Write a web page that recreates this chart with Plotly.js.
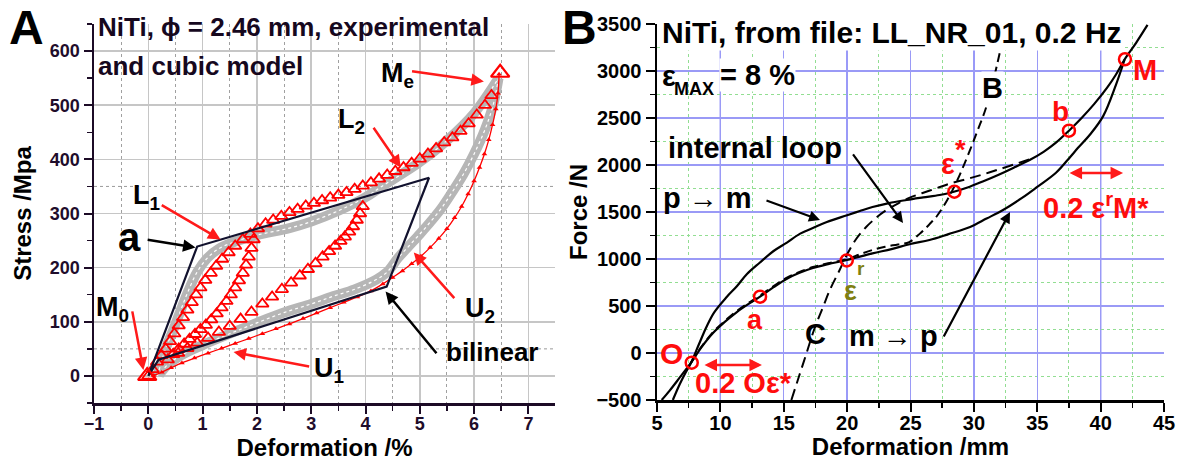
<!DOCTYPE html>
<html>
<head>
<meta charset="utf-8">
<script src="https://cdn.plot.ly/plotly-3.0.1.min.js"></script>
<style>
  html, body { margin: 0; padding: 0; background: #ffffff; }
  #chart { width: 1179px; height: 464px; }
</style>
</head>
<body>
<div id="chart"></div>
<script>
// ---------- Panel A: NiTi wire, stress vs deformation ----------
// experimental loading branch (red triangles)
const expLoadStrain = [0.00,0.08,0.16,0.24,0.32,0.40,0.48,0.56,0.64,0.72,0.80,0.88,0.96,1.05,1.15,1.25,1.36,1.48,1.60,1.74,1.88,2.02,2.16,2.30,2.45,2.60,2.75,2.90,3.05,3.20,3.35,3.50,3.65,3.80,3.95,4.10,4.25,4.40,4.55,4.70,4.85,5.00,5.15,5.30,5.45,5.60,5.75,5.90,6.05,6.20,6.32];
const expLoadStress = [0,12,26,38,50,64,78,93,108,122,136,150,163,177,190,203,216,228,240,252,262,272,281,288,295,302,308,314,319,324,329,334,339,345,351,357,364,371,378,385,393,401,410,420,431,440,452,466,482,500,518];
// first internal sub-loop, return branch
const expLoop1Strain = [1.94,1.90,1.85,1.80,1.74,1.67,1.60,1.52,1.44,1.35,1.26,1.16,1.06,0.96,0.86,0.76,0.66,0.56,0.46,0.36];
const expLoop1Stress = [252,236,220,205,190,176,163,150,138,126,115,104,94,86,77,68,59,50,40,30];
// second internal sub-loop branch
const expLoop2Strain = [3.95,3.90,3.84,3.77,3.70,3.62,3.54,3.44,3.33,3.21,3.08,2.94,2.79,2.63,2.46,2.28,2.10,1.90,1.70,1.50,1.30,1.10,0.90,0.72,0.55];
const expLoop2Stress = [313,300,288,276,266,257,249,240,230,220,208,197,185,172,160,146,133,118,105,92,81,70,61,51,42];
// experimental unloading branch
const expUnloadStrain = [6.46,6.44,6.40,6.34,6.27,6.19,6.10,6.00,5.89,5.77,5.64,5.50,5.35,5.19,5.02,4.85,4.68,4.50,4.32,4.10,3.85,3.60,3.35,3.10,2.85,2.60,2.35,2.10,1.85,1.60,1.35,1.10,0.85,0.62,0.42,0.25,0.10];
const expUnloadStress = [557,522,493,464,436,410,385,360,336,313,292,272,254,237,221,207,194,182,170,157,146,136,126,116,106,96,87,78,69,60,51,42,33,24,15,7,1];
// start (M0) and end (Me) points
const expEndStrain = [-0.02, 6.48];
const expEndStress = [0, 560];
// cubic model (grey)
const modelLoadStrain = [0.17,0.30,0.46,0.60,0.72,0.90,1.09,1.30,1.60,2.00,2.60,3.00,3.50,4.00,4.30,4.70,5.00,5.50,6.00,6.45];
const modelLoadStress = [0,45,85,122,153,192,218,235,248,260,273,285,305,330,350,375,395,435,485,550];
const modelUnloadStrain = [6.45,6.35,6.20,6.00,5.80,5.60,5.40,5.20,5.00,4.80,4.60,4.40,4.20,3.80,3.40,3.00,2.50,2.00,1.50,1.00,0.60,0.35,0.20];
const modelUnloadStress = [550,500,455,410,372,340,310,285,262,240,218,192,178,160,147,133,117,98,78,57,38,20,2];
// bilinear model
const bilinStrain = [0, 0.90, 5.17, 4.39, 0.19, 0];
const bilinStress = [0, 239, 366, 165, 30, 0];

// ---------- Panel B: force vs deformation, LL_NR_01 ----------
// p -> m branch
const pmDefo = [6.25,6.8,7.25,7.7,8.3,8.9,9.5,10.5,11.3,12.1,13.1,14.2,15.25,16.3,17.3,18.4,20.0,21.0,22.0,23.3,24.7,26.0,27.3,28.35,29.5,30.7,32.0,33.2,34.4,35.5,36.5,37.5,38.5,39.5,40.5,41.2,41.9,42.8,43.7];
const pmForce = [-500,-330,-210,-100,90,277,430,596,710,840,960,1085,1175,1270,1330,1394,1465,1510,1553,1595,1628,1655,1681,1713,1760,1825,1900,1975,2053,2140,2240,2365,2500,2650,2820,2960,3125,3300,3490];
// m -> p branch
const mpDefo = [41.9,41.2,40.2,39.2,38.2,37.6,36.5,35.0,33.8,32.3,31.0,29.7,28.0,26.5,25.0,23.5,22.0,20.0,18.5,17.3,16.2,15.25,14.2,13.13,12.2,11.3,10.3,9.42,8.5,7.7,6.8,6.0,5.37];
const mpForce = [3125,2850,2520,2330,2180,2086,1920,1767,1650,1521,1430,1341,1265,1202,1160,1105,1060,990,945,904,850,790,700,599,520,436,325,213,60,-100,-260,-400,-500];
// internal loop, dashed branch ending in line B
const loopDefo = [7.7,8.5,9.42,10.3,11.3,12.2,13.13,14.2,15.25,16.2,17.3,18.5,20.0,21.0,22.0,23.0,24.0,24.9,25.8,26.5,27.1,27.9,28.7,29.7,30.3,30.9,31.5,32.1];
const loopForce = [-100,65,222,335,448,532,612,712,802,860,914,955,1000,1050,1096,1130,1155,1180,1277,1370,1460,1628,1840,2160,2370,2585,2880,3230];
// internal loop, dashed branch starting with line C
const cDefo = [15.6,16.2,16.8,17.4,18.1,18.7,19.4,20.0,20.7,21.5,22.3,23.1,24.0,24.9,25.9,27.0,28.3,29.7,31.2,32.8,34.6];
const cForce = [-500,-250,0,250,490,690,880,1050,1210,1340,1440,1520,1590,1650,1700,1750,1810,1860,1920,1990,2070];
// marked points O, a, eps_r, eps*, b, M
const pointDefo = [7.74, 13.13, 19.97, 28.46, 37.5, 41.92];
const pointForce = [-103, 599, 985, 1716, 2365, 3125];

// ---------- styling ----------
const FONT = 'Liberation Sans, Arial, Helvetica, sans-serif';
const RED = '#ff0000';
const DARK_A = '#1c0b26';
const W = 1179, H = 464;

const traces = [
  // cubic model band
  {x: modelLoadStrain, y: modelLoadStress, xaxis: 'x', yaxis: 'y', mode: 'lines',
   line: {color: '#b6b6b6', width: 10, shape: 'spline'}},
  {x: modelUnloadStrain, y: modelUnloadStress, xaxis: 'x', yaxis: 'y', mode: 'lines',
   line: {color: '#b6b6b6', width: 10, shape: 'spline'}},
  {x: modelLoadStrain, y: modelLoadStress, xaxis: 'x', yaxis: 'y', mode: 'lines',
   line: {color: '#ffffff', width: 1.2, shape: 'spline', dash: 'dot'}},
  {x: modelUnloadStrain, y: modelUnloadStress, xaxis: 'x', yaxis: 'y', mode: 'lines',
   line: {color: '#ffffff', width: 1.2, shape: 'spline', dash: 'dot'}},
  // experimental data
  {x: expUnloadStrain, y: expUnloadStress, xaxis: 'x', yaxis: 'y', mode: 'lines+markers',
   line: {color: RED, width: 1.3, shape: 'spline'},
   marker: {symbol: 'triangle-up', size: 5, color: RED}},
  {x: expLoadStrain, y: expLoadStress, xaxis: 'x', yaxis: 'y', mode: 'markers',
   marker: {symbol: 'triangle-up-open', size: 11, color: RED, line: {width: 1.8, color: RED}}},
  {x: expLoop1Strain, y: expLoop1Stress, xaxis: 'x', yaxis: 'y', mode: 'markers',
   marker: {symbol: 'triangle-up-open', size: 11, color: RED, line: {width: 1.8, color: RED}}},
  {x: expLoop2Strain, y: expLoop2Stress, xaxis: 'x', yaxis: 'y', mode: 'markers',
   marker: {symbol: 'triangle-up-open', size: 11, color: RED, line: {width: 1.8, color: RED}}},
  // bilinear model
  {x: bilinStrain, y: bilinStress, xaxis: 'x', yaxis: 'y', mode: 'lines',
   line: {color: '#12122e', width: 2.2}},
  {x: expEndStrain, y: expEndStress, xaxis: 'x', yaxis: 'y', mode: 'markers',
   marker: {symbol: 'triangle-up-open', size: 16, color: RED, line: {width: 2.2, color: RED}}},

  // Panel B curves
  {x: cDefo, y: cForce, xaxis: 'x2', yaxis: 'y2', mode: 'lines',
   line: {color: '#000000', width: 2, dash: '11px,6px', shape: 'spline'}},
  {x: loopDefo, y: loopForce, xaxis: 'x2', yaxis: 'y2', mode: 'lines',
   line: {color: '#000000', width: 2, dash: '9px,5px', shape: 'spline'}},
  {x: pmDefo, y: pmForce, xaxis: 'x2', yaxis: 'y2', mode: 'lines',
   line: {color: '#000000', width: 2.2, shape: 'spline'}},
  {x: mpDefo, y: mpForce, xaxis: 'x2', yaxis: 'y2', mode: 'lines',
   line: {color: '#000000', width: 2.2, shape: 'spline'}},
  {x: pointDefo, y: pointForce, xaxis: 'x2', yaxis: 'y2', mode: 'markers',
   marker: {symbol: 'circle-open', size: 12, color: RED, line: {width: 2.5, color: RED}}}
];
traces.forEach(t => { t.showlegend = false; t.hoverinfo = 'skip'; });

function txt(text, x, y, ref, size, color, extra) {
  return Object.assign({
    text: text, x: x, y: y, xref: ref[0], yref: ref[1], showarrow: false,
    xanchor: 'center', yanchor: 'middle',
    font: {family: FONT, size: size, color: color, weight: 'bold'}
  }, extra || {});
}
function arr(x0, y0, x1, y1, ref, color, width, side) {
  return {
    text: '', x: x1, y: y1, ax: x0, ay: y0, xref: ref[0], yref: ref[1],
    axref: ref[0], ayref: ref[1], showarrow: true, arrowhead: 2, arrowsize: 1,
    arrowwidth: width, arrowcolor: color, standoff: 0, startstandoff: 0,
    arrowside: side || 'end', startarrowhead: 2, startarrowsize: 1
  };
}
const A = ['x', 'y'], B = ['x2', 'y2'], P = ['paper', 'paper'];
const px = v => v / W, py = v => 1 - v / H;

const annotations = [
  // panel letters
  txt('A', px(26), py(28), P, 48, '#000000'),
  txt('B', px(579), py(28), P, 48, '#000000'),
  // panel A heading
  txt('NiTi, \u03d5 = 2.46 mm, experimental', px(96), py(27), P, 26, '#16081e', {xanchor: 'left'}),
  txt('and cubic model', px(96), py(66), P, 26, '#16081e', {xanchor: 'left'}),
  // panel A labels and pointers
  txt('M<sub>e</sub>', 4.59, 556, A, 27, '#000000'),
  arr(4.83, 563, 6.18, 544, A, '#ff1a1a', 2.5),
  txt('L<sub>2</sub>', 3.75, 470, A, 27, '#000000'),
  arr(4.13, 461, 4.65, 385, A, '#ff1a1a', 2.5),
  txt('L<sub>1</sub>', -0.04, 331, A, 27, '#000000'),
  arr(0.22, 317, 1.33, 252, A, '#ff1a1a', 2.5),
  txt('a', -0.35, 257, A, 40, '#000000'),
  arr(-0.04, 252, 0.87, 237, A, '#000000', 2.5),
  txt('M<sub>0</sub>', -0.66, 124, A, 27, '#000000'),
  arr(-0.30, 122, -0.09, 11, A, '#ff1a1a', 2.5),
  txt('U<sub>1</sub>', 3.32, 11, A, 27, '#000000'),
  arr(2.99, 17, 1.57, 44, A, '#ff1a1a', 2.5),
  txt('U<sub>2</sub>', 6.11, 122, A, 27, '#000000'),
  arr(5.66, 141, 4.89, 228, A, '#ff1a1a', 2.5),
  txt('bilinear', 6.33, 44, A, 26, '#000000'),
  arr(5.33, 39, 4.37, 156, A, '#000000', 2.5),

  // panel B heading
  txt('NiTi, from file: LL_NR_01, 0.2 Hz', px(660), py(33), P, 30, '#000000',
      {xanchor: 'left', bgcolor: '#ffffff', borderpad: 1}),
  txt('\u03b5', px(660), py(76), P, 29, '#000000', {xanchor: 'left'}),
  txt('MAX', px(672), py(89), P, 18, '#000000', {xanchor: 'left'}),
  txt('= 8 %', px(719), py(75), P, 29, '#000000', {xanchor: 'left', bgcolor: '#ffffff', borderpad: 0}),
  // panel B labels
  txt('internal loop', 12.73, 2181, B, 29, '#000000'),
  arr(20.38, 2128, 24.41, 1383, B, '#000000', 2.2),
  txt('p \u2192 m', 9.02, 1649, B, 29, '#000000'),
  arr(13.52, 1628, 17.86, 1415, B, '#000000', 2.2),
  txt('m \u2192 p', 23.62, 181, B, 29, '#000000'),
  arr(27.56, 160, 32.85, 1500, B, '#000000', 2.2),
  txt('B', 31.43, 2820, B, 29, '#000000', {bgcolor: '#ffffff', borderpad: 0}),
  txt('C', 17.47, 202, B, 29, '#000000'),
  txt('O', 6.18, 0, B, 30, '#ff0d0d'),
  txt('a', 12.73, 351, B, 27, '#ff0d0d'),
  txt('\u03b5', 20.23, 660, B, 27, '#7f7f10'),
  txt('r', 21.1, 894, B, 19, '#7f7f10'),
  txt('\u03b5', 27.96, 2011, B, 29, '#ff0d0d'),
  txt('*', 28.98, 2160, B, 27, '#ff0d0d'),
  txt('b', 36.8, 2564, B, 28, '#ff0d0d'),
  txt('M', 43.5, 3011, B, 29, '#ff0d0d'),
  txt('0.2 O\u03b5*', 11.79, -319, B, 29, '#ff0d0d'),
  arr(8.63, -128, 13.28, -128, B, '#ff1a1a', 2.5, 'end+start'),
  txt('0.2 \u03b5<sup>r</sup>M*', 39.64, 1564, B, 29, '#ff0d0d'),
  arr(37.43, 1915, 41.77, 1915, B, '#ff1a1a', 2.5, 'end+start')
];

// extra grid decoration: dotted guides in A, darker blue every second line in B
const shapes = [];
[50, 350].forEach(v => shapes.push({type: 'line', xref: 'x', yref: 'y', x0: -1, x1: 7.5, y0: v, y1: v,
  layer: 'below', line: {color: '#9a9a9a', width: 1, dash: 'dot'}}));
[10, 20, 30, 40].forEach(v => shapes.push({type: 'line', xref: 'x2', yref: 'y2', x0: v, x1: v, y0: -500, y1: 3500,
  layer: 'below', line: {color: '#2b2bf2', width: 1.2}}));
[0, 1000, 2000, 3000].forEach(v => shapes.push({type: 'line', xref: 'x2', yref: 'y2', x0: 5, x1: 45, y0: v, y1: v,
  layer: 'below', line: {color: '#2b2bf2', width: 1.2}}));

const tickFontA = {family: FONT, size: 18, color: '#1f0d2b', weight: 'bold'};
const tickFontB = {family: FONT, size: 20, color: '#000000', weight: 'bold'};
const titleFont = {family: FONT, size: 24, color: '#000000', weight: 'bold'};

const layout = {
  width: W, height: H,
  margin: {l: 0, r: 0, t: 0, b: 0},
  paper_bgcolor: '#ffffff', plot_bgcolor: '#ffffff',
  showlegend: false,
  xaxis: {
    domain: [94 / W, 555 / W], range: [-1, 7.49], anchor: 'y',
    tick0: 0, dtick: 1, showline: true, linecolor: DARK_A, linewidth: 2.5,
    ticks: 'outside', ticklen: 8, tickwidth: 2, tickcolor: DARK_A, tickfont: tickFontA,
    ticklabelstandoff: -5,
    showgrid: true, gridcolor: '#c6c6c6', gridwidth: 1.6, zeroline: false,
    minor: {dtick: 0.5, ticks: 'outside', ticklen: 5, tickwidth: 1.5, tickcolor: DARK_A,
            showgrid: true, gridcolor: '#a0a0a0', griddash: 'dot', gridwidth: 1},
    title: {text: 'Deformation /%', font: titleFont, standoff: 4}
  },
  yaxis: {
    domain: [1 - 403 / H, 1 - 24 / H], range: [-50, 650], anchor: 'x',
    tick0: 0, dtick: 100, showline: true, linecolor: DARK_A, linewidth: 2.5,
    ticks: 'outside', ticklen: 8, tickwidth: 2, tickcolor: DARK_A, tickfont: tickFontA,
    showgrid: true, gridcolor: '#c6c6c6', gridwidth: 1.6, zeroline: false,
    minor: {dtick: 50, ticks: 'outside', ticklen: 5, tickwidth: 1.5, tickcolor: DARK_A, showgrid: false},
    title: {text: 'Stress /Mpa', font: titleFont, standoff: 12}
  },
  xaxis2: {
    domain: [657 / W, 1164 / W], range: [5, 45], anchor: 'y2',
    tick0: 5, dtick: 5, showline: true, linecolor: '#000000', linewidth: 2.5,
    ticks: 'outside', ticklen: 9, tickwidth: 2, tickcolor: '#000000', tickfont: tickFontB,
    ticklabelstandoff: -6,
    showgrid: true, gridcolor: '#9a9af6', gridwidth: 1.2, zeroline: false,
    minor: {dtick: 2.5, ticks: 'outside', ticklen: 5, tickwidth: 1.5, tickcolor: '#000000',
            showgrid: true, gridcolor: '#92de92', griddash: 'dot', gridwidth: 1},
    title: {text: 'Deformation /mm', font: titleFont, standoff: 2}
  },
  yaxis2: {
    domain: [1 - 400 / H, 1 - 24 / H], range: [-500, 3500], anchor: 'x2',
    tick0: 0, dtick: 500, showline: true, linecolor: '#000000', linewidth: 2.5,
    ticks: 'outside', ticklen: 9, tickwidth: 2, tickcolor: '#000000', tickfont: tickFontB,
    showgrid: true, gridcolor: '#9a9af6', gridwidth: 1.2, zeroline: false,
    minor: {dtick: 250, ticks: 'outside', ticklen: 5, tickwidth: 1.5, tickcolor: '#000000',
            showgrid: true, gridcolor: '#92de92', griddash: 'dot', gridwidth: 1},
    title: {text: 'Force /N', font: titleFont, standoff: 2}
  },
  annotations: annotations,
  shapes: shapes
};

Plotly.newPlot('chart', traces, layout, {displayModeBar: false, staticPlot: true});
</script>
</body>
</html>
